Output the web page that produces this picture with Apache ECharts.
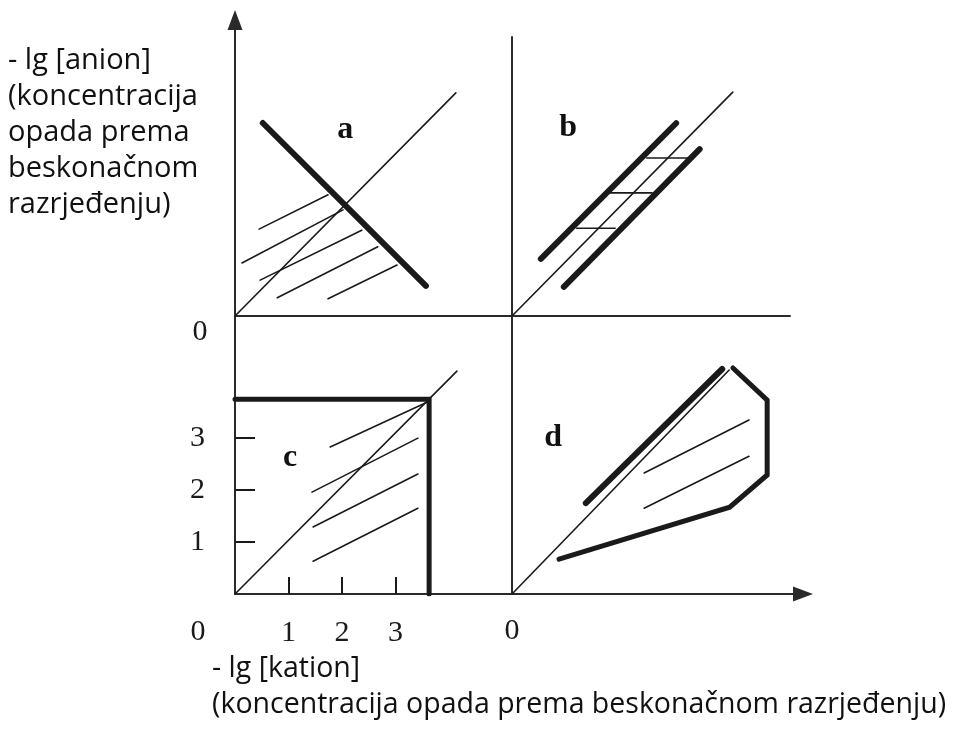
<!DOCTYPE html>
<html>
<head>
<meta charset="utf-8">
<script src="https://cdn.jsdelivr.net/npm/echarts@6/dist/echarts.min.js"></script>
<style>
html, body { margin: 0; padding: 0; background: #fff; }
#chart { width: 954px; height: 736px; }
</style>
</head>
<body>
<div id="chart"></div>
<script>
// all panels use the units of panel c (ticks 1, 2, 3 = lg units)
let tickValues = [1, 2, 3];
let panelNames = ['a', 'b', 'c', 'd'];
let namePos = [[2.06, 3.58], [1.05, 3.62], [1.03, 2.63], [0.77, 3.0]];

// panel a
let diagA = [[0, 0], [4.13, 4.29]];
let thickA = [[0.52, 3.71], [3.57, 0.58]];
let hatchA = [
  [[0.45, 1.67], [1.74, 2.33]],
  [[0.13, 1.02], [2.02, 2.04]],
  [[0.47, 0.69], [2.37, 1.65]],
  [[0.79, 0.35], [2.67, 1.33]],
  [[1.74, 0.33], [3.03, 0.98]]
];

// panel b
let diagB = [[0, 0], [4.13, 4.31]];
let thickB = [
  [[0.54, 1.10], [3.07, 3.71]],
  [[0.97, 0.56], [3.51, 3.21]]
];
let rungsB = [
  [[2.52, 3.04], [3.29, 3.04]],
  [[1.83, 2.37], [2.62, 2.37]],
  [[1.21, 1.69], [1.93, 1.69]]
];

// panel c
let diagC = [[0, 0], [4.15, 4.29]];
let boxC = [[0, 3.75], [3.63, 3.75], [3.63, 0]];
let hatchC = [
  [[1.78, 2.83], [3.59, 3.69]],
  [[1.44, 1.96], [3.42, 3.00]],
  [[1.46, 1.29], [3.42, 2.31]],
  [[1.46, 0.63], [3.42, 1.65]]
];

// panel d
let diagD = [[0, 0], [4.06, 4.31]];
let thickD = [[1.38, 1.75], [3.93, 4.33]];
let outlineD = [[0.88, 0.67], [4.07, 1.67], [4.77, 2.29], [4.77, 3.73], [4.13, 4.35]];
let hatchD = [
  [[2.47, 2.33], [4.43, 3.35]],
  [[2.47, 1.65], [4.43, 2.65]]
];

let anionTitle = ['- lg [anion]', '(koncentracija', 'opada prema', 'beskonačnom', 'razrjeđenju)'];
let kationTitle = ['- lg [kation]', '(koncentracija opada prema beskonačnom razrjeđenju)'];

let ink = '#1a1a1a';
let serif = '"Liberation Serif", "DejaVu Serif", serif';
let sans = '"Open Sans", "Noto Sans", sans-serif';

function seg(g, list, width) {
  return {
    type: 'lines',
    coordinateSystem: 'cartesian2d',
    xAxisIndex: g,
    yAxisIndex: g,
    polyline: true,
    silent: true,
    data: list.map(c => ({ coords: c })),
    lineStyle: { width: width, color: ink, opacity: 1, curveness: 0, cap: 'round', join: 'miter' }
  };
}

let axisLine = { show: true, lineStyle: { color: '#2a2a2a', width: 2 } };
let arrowLine = {
  show: true,
  symbol: ['none', 'triangle'],
  symbolSize: [15, 20],
  lineStyle: { color: '#2a2a2a', width: 2 }
};

function axis(g, max, line) {
  return {
    type: 'value', gridIndex: g, min: 0, max: max,
    axisLine: line || axisLine,
    axisTick: { show: false },
    axisLabel: { show: false },
    splitLine: { show: false }
  };
}

let grids = [
  { left: 235, top: 20, width: 277, height: 296 },
  { left: 512, top: 37, width: 278, height: 279 },
  { left: 235, top: 316, width: 277, height: 278 },
  { left: 512, top: 316, width: 291, height: 278 }
].map(g => Object.assign(g, { containLabel: false, outerBoundsMode: 'none' }));

let xAxes = [axis(0, 5.18), axis(1, 5.2), axis(2, 5.18), axis(3, 5.44, arrowLine)];
let yAxes = [axis(0, 5.69, arrowLine), axis(1, 5.37), axis(2, 5.35), axis(3, 5.35)];

// ticks and labels of panel c
xAxes[2].axisTick = { show: true, inside: true, length: 17, customValues: tickValues, lineStyle: { color: ink, width: 2 } };
xAxes[2].axisLabel = { show: true, customValues: tickValues, margin: 24, fontFamily: serif, fontSize: 30, color: ink };
yAxes[2].axisTick = { show: true, inside: true, length: 20, customValues: tickValues, lineStyle: { color: ink, width: 2 } };
yAxes[2].axisLabel = { show: true, customValues: tickValues, margin: 30, fontFamily: serif, fontSize: 30, color: ink };
// origin of panel d
xAxes[3].axisLabel = { show: true, customValues: [0], margin: 22, fontFamily: serif, fontSize: 30, color: ink };

let series = [
  seg(0, [diagA], 1.6), seg(0, hatchA, 1.6), seg(0, [thickA], 6),
  seg(1, [diagB], 1.6), seg(1, rungsB, 1.6), seg(1, thickB, 6),
  seg(2, [diagC], 1.6), seg(2, hatchC, 1.6), seg(2, [boxC], 5),
  seg(3, [diagD], 1.6), seg(3, hatchD, 1.6), seg(3, [thickD], 6), seg(3, [outlineD], 5)
];

panelNames.forEach((n, i) => {
  series.push({
    type: 'scatter', xAxisIndex: i, yAxisIndex: i, silent: true,
    symbolSize: 1, itemStyle: { color: 'rgba(0,0,0,0)', opacity: 1 },
    data: [{ name: n, value: namePos[i] }],
    label: {
      show: true, position: 'inside', formatter: '{b}', opacity: 1,
      textBorderWidth: 0,
      fontFamily: serif, fontWeight: 'bold', fontSize: 32, color: '#111'
    }
  });
});

let option = {
  backgroundColor: '#fff',
  animation: false,
  grid: grids,
  xAxis: xAxes,
  yAxis: yAxes,
  series: series,
  graphic: [
    { type: 'text', x: 200, y: 332, style: { text: '0', fontFamily: serif, fontSize: 30, fill: ink, align: 'center', verticalAlign: 'middle' } },
    { type: 'text', x: 198, y: 632, style: { text: '0', fontFamily: serif, fontSize: 30, fill: ink, align: 'center', verticalAlign: 'middle' } },
    { type: 'text', x: 8, y: 43, style: { text: anionTitle.join('\n'), fontFamily: sans, fontSize: 29, lineHeight: 36, fill: '#111' } },
    { type: 'text', x: 212, y: 651, style: { text: kationTitle.join('\n'), fontFamily: sans, fontSize: 28.5, lineHeight: 36, fill: '#111' } }
  ]
};

let myChart = echarts.init(document.getElementById('chart'));
myChart.setOption(option);
</script>
</body>
</html>
